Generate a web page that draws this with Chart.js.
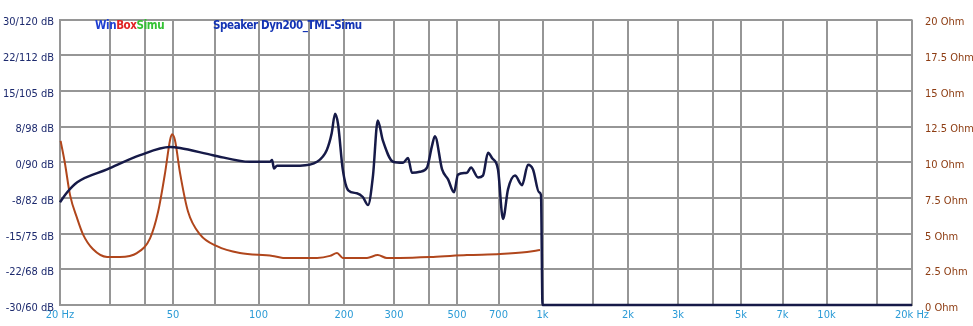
<!DOCTYPE html>
<html>
<head>
<meta charset="utf-8">
<script src="https://cdn.jsdelivr.net/npm/chart.js@4"></script>
<style>
  body { margin: 0; background: #fff; }
  #wrap { position: relative; width: 973px; height: 326px; }
  .cap { position: absolute; top: 18px; font: bold 11.5px 'DejaVu Sans Condensed', 'Liberation Sans', Arial, sans-serif; white-space: nowrap; letter-spacing: -0.4px; }
</style>
</head>
<body>
<div id="wrap">
  <canvas id="fr"></canvas>
  <div class="cap" style="left:95px"><span style="color:#1f3fd2">Win</span><span style="color:#e02424">Box</span><span style="color:#33c233">Simu</span></div>
  <div class="cap" style="left:213px;color:#1434b4">Speaker Dyn200_TML-Simu</div>
</div>
<script>
// x grid / tick labels (Hz)
const freqTicks = [20, 30, 40, 50, 70, 100, 150, 200, 300, 400, 500, 700, 1000, 1500, 2000, 3000, 4000, 5000, 7000, 10000, 15000, 20000];
const freqTickLabels = ['20 Hz', '', '', '50', '', '100', '', '200', '300', '', '500', '700', '1k', '', '2k', '3k', '', '5k', '7k', '10k', '', '20k Hz'];

// left axis labels, top to bottom
const dbTickLabels = ['30/120 dB', '22/112 dB', '15/105 dB', '8/98 dB', '0/90 dB', '-8/82 dB', '-15/75 dB', '-22/68 dB', '-30/60 dB'];
// right axis labels, bottom to top
const ohmTickLabels = ['0 Ohm', '2.5 Ohm', '5 Ohm', '7.5 Ohm', '10 Ohm', '12.5 Ohm', '15 Ohm', '17.5 Ohm', '20 Ohm'];

// SPL response (dB)
const splFreq = [20, 21.2, 23, 29.3, 38.3, 48.8, 52.9, 69.1, 93.3, 109.8, 111.6, 113.4, 116.2, 140, 160.7, 174, 181, 186, 190.5, 198, 207, 222, 233, 243, 253, 263, 274, 298, 323, 336, 347, 370, 392, 408, 418, 443, 465, 488, 504, 542, 560, 593, 617, 643, 664, 697, 726, 756, 800, 847, 889, 926, 972, 988, 1000, 20000];
const splDb = [-8.4, -6.3, -4.2, -1.5, 1.5, 3.2, 3.0, 1.5, 0.1, 0.1, 0.5, -1.3, -0.7, -0.7, 0.1, 2.6, 6.1, 10.2, 8.1, -1.5, -5.9, -6.5, -7.3, -9.0, -2.8, 8.8, 4.6, 0.1, -0.1, 0.9, -2.2, -2.0, -1.1, 3.4, 5.5, -1.5, -3.6, -6.3, -2.6, -2.2, -1.1, -3.2, -2.8, 2.0, 0.9, -1.5, -11.9, -5.7, -2.8, -4.8, -0.5, -1.5, -6.3, -6.9, -30, -30];

// impedance (Ohm)
const impFreq = [20.1, 20.8, 21.7, 23, 24.1, 26.1, 29.3, 32.5, 37.3, 41.5, 44.3, 46.9, 48.8, 49.6, 50.8, 52.9, 56.5, 62.2, 71.4, 86, 112, 122, 160.7, 178.5, 189, 198, 241, 263, 283, 315, 412, 542, 709, 882, 980];
const impOhm = [11.5, 9.97, 7.7, 6.05, 4.95, 3.92, 3.37, 3.37, 3.64, 4.67, 6.53, 9.28, 11.55, 11.96, 11.55, 9.28, 6.53, 4.95, 4.12, 3.64, 3.44, 3.3, 3.3, 3.44, 3.64, 3.3, 3.3, 3.5, 3.3, 3.3, 3.37, 3.5, 3.57, 3.71, 3.85];

const toPts = (xs, ys) => xs.map((x, i) => ({ x: x, y: ys[i] }));

const tickFont = { family: "'DejaVu Sans Condensed', 'Liberation Sans', Arial, sans-serif", size: 11 };
const gridColor = '#969696';

new Chart(document.getElementById('fr'), {
    type: 'line',
    data: {
        datasets: [
            {
                label: 'SPL',
                data: toPts(splFreq, splDb),
                yAxisID: 'y',
                borderColor: '#161a48',
                borderWidth: 2.5,
                pointRadius: 0,
                cubicInterpolationMode: 'monotone',
                clip: 4
            },
            {
                label: 'Impedance',
                data: toPts(impFreq, impOhm),
                yAxisID: 'y1',
                borderColor: '#b0461c',
                borderWidth: 2,
                pointRadius: 0,
                cubicInterpolationMode: 'monotone',
                clip: 4
            }
        ]
    },
    options: {
        responsive: true,
        maintainAspectRatio: false,
        animation: false,
        layout: { padding: { top: 14, left: 0, right: 0, bottom: 0 } },
        plugins: { legend: { display: false }, tooltip: { enabled: false } },
        scales: {
            x: {
                type: 'logarithmic',
                min: 20,
                max: 20000,
                afterBuildTicks: (scale) => {
                    scale.ticks = freqTicks.map(v => ({ value: v }));
                },
                afterFit: (scale) => { scale.height = 21; },
                grid: { color: gridColor, lineWidth: 2, drawTicks: false },
                border: { color: gridColor, width: 2 },
                ticks: {
                    color: '#2b9bd6',
                    font: tickFont,
                    padding: 4,
                    maxRotation: 0,
                    autoSkip: false,
                    callback: (value) => {
                        const i = freqTicks.indexOf(value);
                        return i >= 0 ? freqTickLabels[i] : '';
                    }
                }
            },
            y: {
                position: 'left',
                min: -30,
                max: 30,
                afterBuildTicks: (scale) => {
                    scale.ticks = dbTickLabels.map((_, i) => ({ value: 30 - i * 7.5 }));
                },
                afterFit: (scale) => { scale.width = 60; },
                grid: { color: gridColor, lineWidth: 2, drawTicks: false },
                border: { color: gridColor, width: 2 },
                ticks: {
                    color: '#1d2a6e',
                    font: tickFont,
                    padding: 6,
                    labelOffset: 3,
                    callback: (value) => dbTickLabels[Math.round((30 - value) / 7.5)]
                }
            },
            y1: {
                position: 'right',
                min: 0,
                max: 20,
                afterBuildTicks: (scale) => {
                    scale.ticks = ohmTickLabels.map((_, i) => ({ value: i * 2.5 }));
                },
                afterFit: (scale) => { scale.width = 61; },
                grid: { display: false, drawTicks: false },
                border: { display: false },
                ticks: {
                    color: '#8d3c12',
                    font: tickFont,
                    padding: 13,
                    labelOffset: 3,
                    callback: (value) => ohmTickLabels[Math.round(value / 2.5)]
                }
            }
        }
    }
});
</script>
</body>
</html>
